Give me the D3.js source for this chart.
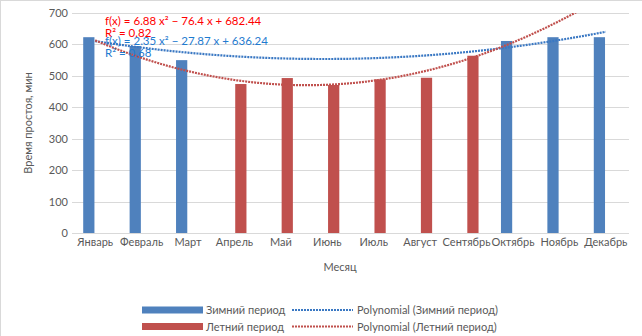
<!DOCTYPE html>
<html>
<head>
<meta charset="utf-8">
<script src="https://cdn.jsdelivr.net/npm/d3@7/dist/d3.min.js"></script>
<style>
  html, body { margin: 0; padding: 0; background: #fff; }
  svg { display: block; font-family: Lato, "Open Sans", sans-serif; }
</style>
</head>
<body>
<svg id="chart" width="642" height="336"></svg>
<script>
// Months (category axis)
const months = ["Январь", "Февраль", "Март", "Апрель", "Май", "Июнь",
                "Июль", "Август", "Сентябрь", "Октябрь", "Ноябрь", "Декабрь"];
// Downtime, minutes (null = no value for that period)
const winterValues = [623, 595, 550, null, null, null, null, null, null, 611, 623, 623];
const summerValues = [null, null, null, 474, 493, 471, 489, 494, 564, null, null, null];
// Polynomial trendline coefficients [a, b, c] for a·x² + b·x + c, x = month number
const winterTrend = [2.35, -27.87, 636.24];
const summerTrend = [6.88, -76.4, 682.44];
const winterR2 = 0.68;
const summerR2 = 0.82;
// Value axis ticks
const yTicks = [0, 100, 200, 300, 400, 500, 600, 700];

const seriesNames = ["Зимний период", "Летний период"];
const colors = { "Зимний период": "#4F81BD", "Летний период": "#C0504D" };
const trendColors = { "Зимний период": "#3A78C3", "Летний период": "#C0504D" };
const FS = 11;

const svg = d3.select("#chart");
const W = 642, H = 336;
const m = { left: 72, right: 13, top: 13, bottom: 103 };
const plotW = W - m.left - m.right, plotH = H - m.top - m.bottom;

// chart border
svg.append("rect").attr("x", 0.5).attr("y", 0.5).attr("width", W + 10).attr("height", H + 10)
  .attr("fill", "none").attr("stroke", "#D9D9D9");

const g = svg.append("g").attr("transform", `translate(${m.left},${m.top})`);

const x0 = d3.scaleBand().domain(months).range([0, plotW]).padding(0);
const x1 = d3.scaleBand().domain(seriesNames)
  .range([x0.bandwidth() / 2 - 12, x0.bandwidth() / 2 + 12]).paddingInner(0.12);
const y = d3.scaleLinear().domain([0, 700]).range([plotH, 0]);

// gridlines
g.append("g").selectAll("line").data(yTicks).join("line")
  .attr("x1", 0).attr("x2", plotW)
  .attr("y1", d => Math.round(y(d)) + 0.5).attr("y2", d => Math.round(y(d)) + 0.5)
  .attr("stroke", "#D9D9D9").attr("stroke-width", 1);

// y tick labels
const yAxis = d3.axisLeft(y).tickValues(yTicks).tickSize(0).tickPadding(4);
g.append("g").call(yAxis)
  .call(s => s.select(".domain").remove())
  .selectAll("text").attr("fill", "#595959").attr("font-size", FS)
  .attr("font-family", "Lato, sans-serif");

// bars
const seriesData = [
  { name: "Зимний период", values: winterValues },
  { name: "Летний период", values: summerValues }
];
seriesData.forEach(s => {
  g.append("g").selectAll("rect")
    .data(s.values.map((v, i) => ({ month: months[i], v })).filter(d => d.v != null))
    .join("rect")
    .attr("x", d => x0(d.month) + x1(s.name))
    .attr("width", x1.bandwidth())
    .attr("y", d => y(d.v))
    .attr("height", d => y(0) - y(d.v))
    .attr("fill", colors[s.name]);
});

// x axis
const xAxis = d3.axisBottom(x0).tickSize(0).tickPadding(5);
g.append("g").attr("transform", `translate(0,${plotH})`).call(xAxis)
  .call(s => s.select(".domain").attr("stroke", "#D9D9D9").attr("d", `M0,0.5H${plotW}`))
  .selectAll("text").attr("fill", "#595959").attr("font-size", FS)
  .attr("font-family", "Lato, sans-serif");

// polynomial trendlines, clipped to plot area
svg.append("clipPath").attr("id", "plotClip").append("rect")
  .attr("x", 0).attr("y", 0).attr("width", plotW).attr("height", plotH);
const xNum = d3.scaleLinear().domain([1, 12])
  .range([x0(months[0]) + x0.bandwidth() / 2, x0(months[11]) + x0.bandwidth() / 2]);
const poly = (c, t) => c[0] * t * t + c[1] * t + c[2];
const samples = d3.range(1, 12.0001, 0.05);
const line = d3.line().x(t => xNum(t.t)).y(t => y(t.v));
[[winterTrend, "Зимний период"], [summerTrend, "Летний период"]].forEach(([c, name]) => {
  g.append("path")
    .attr("clip-path", "url(#plotClip)")
    .attr("d", line(samples.map(t => ({ t, v: poly(c, t) }))))
    .attr("fill", "none").attr("stroke", trendColors[name])
    .attr("stroke-width", 2.2).attr("stroke-dasharray", "2,1");
});

// trendline equations
const fmtEq = c => `f(x) = ${c[0]} x² − ${Math.abs(c[1])} x + ${c[2]}`;
const eqs = [
  { c: summerTrend, r2: summerR2, color: "#FF0000", y: 25 },
  { c: winterTrend, r2: winterR2, color: "#1F7BD0", y: 45 }
];
eqs.forEach(e => {
  const t = svg.append("text").attr("x", 105).attr("y", e.y)
    .attr("fill", e.color).attr("font-size", FS + 0.5).attr("font-family", "Lato, sans-serif");
  t.append("tspan").attr("x", 105).text(fmtEq(e.c));
  t.append("tspan").attr("x", 105).attr("dy", 12).text(`R² = ${e.r2}`);
});

// axis titles
svg.append("text").attr("transform", `translate(32,${m.top + plotH / 2}) rotate(-90)`)
  .attr("text-anchor", "middle").attr("fill", "#595959").attr("font-size", FS)
  .text("Время простоя, мин");
svg.append("text").attr("x", 340).attr("y", 271).attr("text-anchor", "middle")
  .attr("fill", "#595959").attr("font-size", FS).text("Месяц");

// legend
const legendRows = [
  { name: "Зимний период", y: 310 },
  { name: "Летний период", y: 326.5 }
];
legendRows.forEach(r => {
  svg.append("rect").attr("x", 142).attr("y", r.y - 3.5).attr("width", 61).attr("height", 7)
    .attr("fill", colors[r.name]);
  svg.append("text").attr("x", 206).attr("y", r.y + 4).attr("fill", "#595959")
    .attr("font-size", FS).text(r.name);
  svg.append("line").attr("x1", 292).attr("x2", 353).attr("y1", r.y).attr("y2", r.y)
    .attr("stroke", trendColors[r.name]).attr("stroke-width", 2.2).attr("stroke-dasharray", "2,1");
  svg.append("text").attr("x", 357).attr("y", r.y + 4).attr("fill", "#595959")
    .attr("font-size", FS).text(`Polynomial (${r.name})`);
});
</script>
</body>
</html>
